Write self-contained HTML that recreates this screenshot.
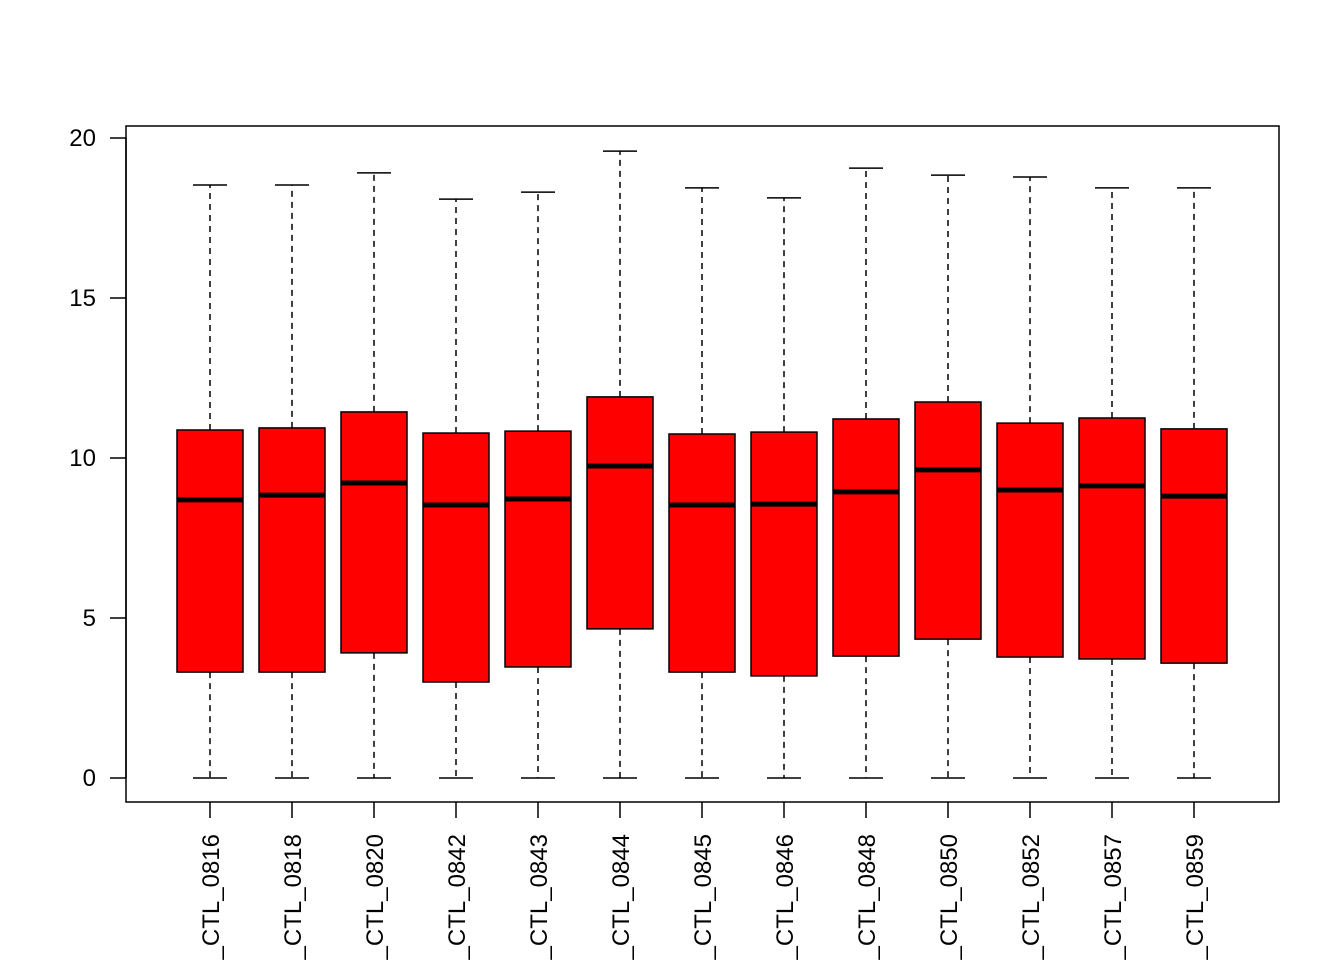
<!DOCTYPE html>
<html><head><meta charset="utf-8"><style>body{margin:0;background:#fff}svg{display:block}text{font-family:"Liberation Sans",Arial,sans-serif}</style></head>
<body>
<svg id="chart" width="1344" height="960" viewBox="0 0 1344 960" xmlns="http://www.w3.org/2000/svg">
<rect x="126" y="126" width="1153" height="676" fill="none" stroke="#000" stroke-width="1.5"/>
<g id="axis"></g>
<g id="boxes"></g>
</svg>
<script>
const categories=["0816","0818","0820","0842","0843","0844","0845","0846","0848","0850","0852","0857","0859"];
const mins=[0,0,0,0,0,0,0,0,0,0,0,0,0];
const q1s=[3.31,3.31,3.91,3.0,3.47,4.66,3.31,3.19,3.81,4.34,3.78,3.72,3.59];
const medians=[8.69,8.84,9.22,8.53,8.72,9.75,8.53,8.56,8.94,9.63,9.0,9.13,8.81];
const q3s=[10.875,10.94,11.44,10.78,10.84,11.91,10.75,10.81,11.22,11.75,11.09,11.25,10.91];
const maxs=[18.53,18.53,18.91,18.09,18.31,19.59,18.44,18.13,19.06,18.84,18.78,18.44,18.44];
const yTicks=[0,5,10,15,20];
const NS="http://www.w3.org/2000/svg";
const y=v=>778-v*32;
const x=i=>210+i*82;
function mk(tag,attrs,parent){const e=document.createElementNS(NS,tag);for(const k in attrs)e.setAttribute(k,attrs[k]);parent.appendChild(e);return e;}
const ax=document.getElementById('axis'),bx=document.getElementById('boxes');
let l=mk('line',{x1:126,x2:126,y1:y(0),y2:y(20),stroke:'#000','stroke-width':1.5},ax);


yTicks.forEach(t=>{
 const tk=mk('line',{x1:110,x2:126,y1:y(t),y2:y(t),stroke:'#000','stroke-width':1.5},ax);
 
 
 const tx=mk('text',{x:96,y:y(t)+8,'text-anchor':'end','font-size':24},ax);
 tx.textContent=t;
 
 
});
categories.forEach((c,i)=>{
 const cx=x(i),g=mk('g',{},bx);
 
 
 mk('line',{x1:cx,x2:cx,y1:y(q3s[i]),y2:y(maxs[i]),stroke:'#000','stroke-width':1.5,'stroke-dasharray':'6,5'},g);
 mk('line',{x1:cx,x2:cx,y1:y(q1s[i]),y2:y(mins[i]),stroke:'#000','stroke-width':1.5,'stroke-dasharray':'6,5'},g);
 mk('line',{x1:cx-17,x2:cx+17,y1:y(maxs[i]),y2:y(maxs[i]),stroke:'#000','stroke-width':1.5},g);
 mk('line',{x1:cx-17,x2:cx+17,y1:y(mins[i]),y2:y(mins[i]),stroke:'#000','stroke-width':1.5},g);
 mk('rect',{x:cx-33,y:y(q3s[i]),width:66,height:y(q1s[i])-y(q3s[i]),fill:'#ff0000',stroke:'#000','stroke-width':1.5},g);
 mk('line',{x1:cx-33,x2:cx+33,y1:y(medians[i]),y2:y(medians[i]),stroke:'#000','stroke-width':5},g);
 const tk=mk('line',{x1:cx,x2:cx,y1:802,y2:818,stroke:'#000','stroke-width':1.5},ax);
 
 
 const tx=mk('text',{x:0,y:0,'text-anchor':'end','font-size':24,transform:`translate(${cx+9},834) rotate(-90)`},ax);
 tx.textContent='_CTL_'+c;
 
 
});
</script>
</body></html>
